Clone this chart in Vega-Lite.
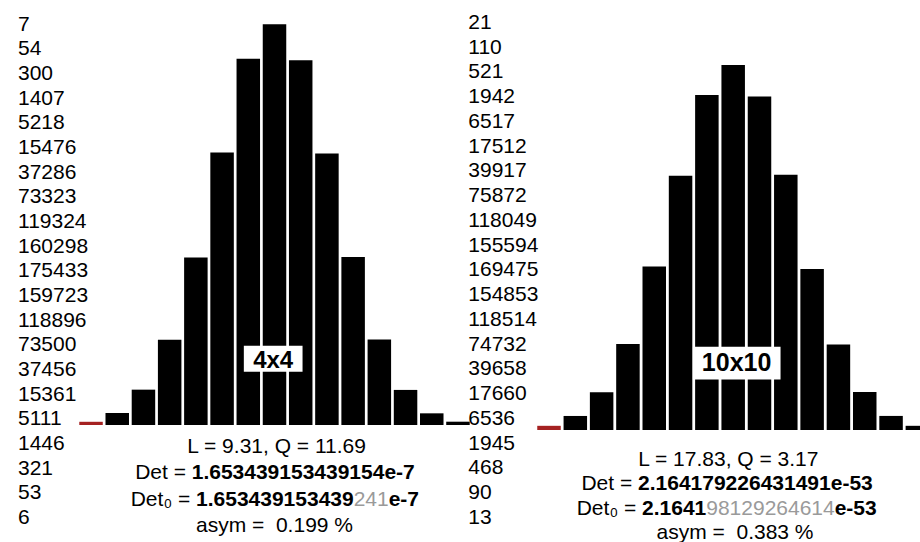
{
  "$schema": "https://vega.github.io/schema/vega-lite/v6.json",
  "padding": 0,
  "spacing": 0,
  "bounds": "flush",
  "background": "white",
  "config": {
    "view": {"stroke": null},
    "axis": {"disable": true},
    "text": {"font": "Liberation Sans", "fontSize": 21, "baseline": "middle", "color": "#000000"}
  },
  "datasets": {
    "L": [
      {"idx": 0, "n": 7}, {"idx": 1, "n": 54}, {"idx": 2, "n": 300}, {"idx": 3, "n": 1407},
      {"idx": 4, "n": 5218}, {"idx": 5, "n": 15476}, {"idx": 6, "n": 37286}, {"idx": 7, "n": 73323},
      {"idx": 8, "n": 119324}, {"idx": 9, "n": 160298}, {"idx": 10, "n": 175433}, {"idx": 11, "n": 159723},
      {"idx": 12, "n": 118896}, {"idx": 13, "n": 73500}, {"idx": 14, "n": 37456}, {"idx": 15, "n": 15361},
      {"idx": 16, "n": 5111}, {"idx": 17, "n": 1446}, {"idx": 18, "n": 321}, {"idx": 19, "n": 53}, {"idx": 20, "n": 6}
    ],
    "R": [
      {"idx": 0, "n": 21}, {"idx": 1, "n": 110}, {"idx": 2, "n": 521}, {"idx": 3, "n": 1942},
      {"idx": 4, "n": 6517}, {"idx": 5, "n": 17512}, {"idx": 6, "n": 39917}, {"idx": 7, "n": 75872},
      {"idx": 8, "n": 118049}, {"idx": 9, "n": 155594}, {"idx": 10, "n": 169475}, {"idx": 11, "n": 154853},
      {"idx": 12, "n": 118514}, {"idx": 13, "n": 74732}, {"idx": 14, "n": 39658}, {"idx": 15, "n": 17660},
      {"idx": 16, "n": 6536}, {"idx": 17, "n": 1945}, {"idx": 18, "n": 468}, {"idx": 19, "n": 90}, {"idx": 20, "n": 13}
    ],
    "LT": [{"t": "4x4"}],
    "RT": [{"t": "10x10"}],
    "LS": [
      {"line": 0, "part": "c0", "t": "L = 9.31, Q = 11.69"},
      {"line": 1, "part": "lab1", "t": "Det ="},
      {"line": 1, "part": "val1", "t": "1.653439153439154e-7"},
      {"line": 2, "part": "lab2", "t": "Det₀ ="},
      {"line": 2, "part": "head2", "t": "1.653439153439"},
      {"line": 2, "part": "gray2", "t": "241"},
      {"line": 2, "part": "tail2", "t": "e-7"},
      {"line": 3, "part": "c3", "t": "asym = \u00a00.199 %"}
    ],
    "RS": [
      {"line": 0, "part": "c0", "t": "L = 17.83, Q = 3.17"},
      {"line": 1, "part": "lab1", "t": "Det ="},
      {"line": 1, "part": "val1", "t": "2.164179226431491e-53"},
      {"line": 2, "part": "lab2", "t": "Det₀ ="},
      {"line": 2, "part": "head2", "t": "2.1641"},
      {"line": 2, "part": "gray2", "t": "98129264614"},
      {"line": 2, "part": "tail2", "t": "e-53"},
      {"line": 3, "part": "c3", "t": "asym = \u00a00.383 %"}
    ]
  },
  "hconcat": [
    {
      "width": 460,
      "height": 542,
      "resolve": {"scale": {"y": "independent"}},
      "layer": [
        {
          "data": {"name": "L"},
          "layer": [
            {
              "transform": [{"filter": "datum.idx >= 4 && datum.idx <= 17"}],
              "mark": {"type": "bar", "orient": "vertical", "width": 23.5, "fill": "#000000"},
              "encoding": {
                "x": {"field": "idx", "type": "quantitative", "scale": {"domain": [0, 20], "range": [12.4, 536.6], "padding": 0, "nice": false, "zero": false}},
                "y": {"field": "n", "type": "quantitative", "scale": {"domain": [0, 175433], "range": [425, 24.3], "padding": 0, "nice": false}}
              }
            },
            {
              "transform": [{"filter": "datum.idx == 3"}],
              "mark": {"type": "bar", "orient": "vertical", "width": 23.5, "fill": "#a52222"},
              "encoding": {
                "x": {"field": "idx", "type": "quantitative"},
                "y": {"field": "n", "type": "quantitative"}
              }
            },
            {
              "data": {"name": "LT"},
              "mark": {"type": "rect", "fill": "#ffffff"},
              "encoding": {
                "x": {"datum": 8.83}, "x2": {"datum": 11.07},
                "y": {"datum": 34700}, "y2": {"datum": 23300}
              }
            },
            {
              "data": {"name": "LT"},
              "mark": {"type": "text", "align": "center", "fontSize": 24, "fontWeight": "bold"},
              "encoding": {
                "x": {"datum": 9.95},
                "y": {"datum": 28000},
                "text": {"field": "t", "type": "nominal"}
              }
            }
          ]
        },
        {
          "data": {"name": "L"},
          "mark": {"type": "text", "align": "left"},
          "encoding": {
            "x": {"datum": 0.214},
            "y": {"field": "idx", "type": "quantitative", "scale": {"domain": [0, 20], "range": [24.7, 517.9], "padding": 0, "nice": false}},
            "text": {"field": "n", "type": "nominal"}
          }
        },
        {
          "data": {"name": "LS"},
          "encoding": {
            "y": {"field": "line", "type": "quantitative", "scale": {"domain": [0, 3], "range": [447, 526.2], "padding": 0, "nice": false}},
            "text": {"field": "t", "type": "nominal"}
          },
          "layer": [
            {"transform": [{"filter": "datum.part == 'c0'"}], "mark": {"type": "text", "align": "center"}, "encoding": {"x": {"datum": 10.08}}},
            {"transform": [{"filter": "datum.part == 'c3'"}], "mark": {"type": "text", "align": "center"}, "encoding": {"x": {"datum": 10.0}}},
            {"transform": [{"filter": "datum.part == 'lab1'"}], "mark": {"type": "text", "align": "right"}, "encoding": {"x": {"datum": 6.62}}},
            {"transform": [{"filter": "datum.part == 'val1'"}], "mark": {"type": "text", "align": "left", "fontWeight": "bold"}, "encoding": {"x": {"datum": 6.841}}},
            {"transform": [{"filter": "datum.part == 'lab2'"}], "mark": {"type": "text", "align": "right"}, "encoding": {"x": {"datum": 6.784}}},
            {"transform": [{"filter": "datum.part == 'head2'"}], "mark": {"type": "text", "align": "left", "fontWeight": "bold"}, "encoding": {"x": {"datum": 7.006}}},
            {"transform": [{"filter": "datum.part == 'gray2'"}], "mark": {"type": "text", "align": "left", "color": "#9a9a9a"}, "encoding": {"x": {"datum": 13.019}}},
            {"transform": [{"filter": "datum.part == 'tail2'"}], "mark": {"type": "text", "align": "left", "fontWeight": "bold"}, "encoding": {"x": {"datum": 14.355}}}
          ]
        }
      ]
    },
    {
      "width": 460,
      "height": 542,
      "resolve": {"scale": {"y": "independent"}},
      "layer": [
        {
          "data": {"name": "R"},
          "layer": [
            {
              "transform": [{"filter": "datum.idx >= 4 && datum.idx <= 17"}],
              "mark": {"type": "bar", "orient": "vertical", "width": 23.5, "fill": "#000000"},
              "encoding": {
                "x": {"field": "idx", "type": "quantitative", "scale": {"domain": [0, 20], "range": [10.07, 536.3], "padding": 0, "nice": false, "zero": false}},
                "y": {"field": "n", "type": "quantitative", "scale": {"domain": [0, 169475], "range": [430, 65], "padding": 0, "nice": false}}
              }
            },
            {
              "transform": [{"filter": "datum.idx == 3"}],
              "mark": {"type": "bar", "orient": "vertical", "width": 23.5, "fill": "#a52222"},
              "encoding": {
                "x": {"field": "idx", "type": "quantitative"},
                "y": {"field": "n", "type": "quantitative"}
              }
            },
            {
              "data": {"name": "RT"},
              "mark": {"type": "rect", "fill": "#ffffff"},
              "encoding": {
                "x": {"datum": 8.47}, "x2": {"datum": 11.8},
                "y": {"datum": 38680}, "y2": {"datum": 23500}
              }
            },
            {
              "data": {"name": "RT"},
              "mark": {"type": "text", "align": "center", "fontSize": 25, "fontWeight": "bold"},
              "encoding": {
                "x": {"datum": 10.13},
                "y": {"datum": 31100},
                "text": {"field": "t", "type": "nominal"}
              }
            }
          ]
        },
        {
          "data": {"name": "R"},
          "mark": {"type": "text", "align": "left"},
          "encoding": {
            "x": {"datum": -0.067},
            "y": {"field": "idx", "type": "quantitative", "scale": {"domain": [0, 20], "range": [23, 517.9], "padding": 0, "nice": false}},
            "text": {"field": "n", "type": "nominal"}
          }
        },
        {
          "data": {"name": "RS"},
          "encoding": {
            "y": {"field": "line", "type": "quantitative", "scale": {"domain": [0, 3], "range": [459.5, 533.3], "padding": 0, "nice": false}},
            "text": {"field": "t", "type": "nominal"}
          },
          "layer": [
            {"transform": [{"filter": "datum.part == 'c0'"}], "mark": {"type": "text", "align": "center"}, "encoding": {"x": {"datum": 9.817}}},
            {"transform": [{"filter": "datum.part == 'c3'"}], "mark": {"type": "text", "align": "center"}, "encoding": {"x": {"datum": 10.07}}},
            {"transform": [{"filter": "datum.part == 'lab1'"}], "mark": {"type": "text", "align": "right"}, "encoding": {"x": {"datum": 6.162}}},
            {"transform": [{"filter": "datum.part == 'val1'"}], "mark": {"type": "text", "align": "left", "fontWeight": "bold"}, "encoding": {"x": {"datum": 6.383}}},
            {"transform": [{"filter": "datum.part == 'lab2'"}], "mark": {"type": "text", "align": "right"}, "encoding": {"x": {"datum": 6.314}}},
            {"transform": [{"filter": "datum.part == 'head2'"}], "mark": {"type": "text", "align": "left", "fontWeight": "bold"}, "encoding": {"x": {"datum": 6.535}}},
            {"transform": [{"filter": "datum.part == 'gray2'"}], "mark": {"type": "text", "align": "left", "color": "#9a9a9a"}, "encoding": {"x": {"datum": 8.976}}},
            {"transform": [{"filter": "datum.part == 'tail2'"}], "mark": {"type": "text", "align": "left", "fontWeight": "bold"}, "encoding": {"x": {"datum": 13.858}}}
          ]
        }
      ]
    }
  ]
}
